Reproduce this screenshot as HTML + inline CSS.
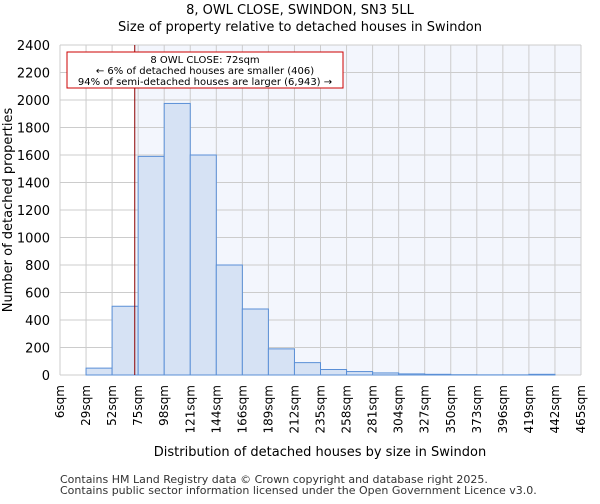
<!DOCTYPE html>
<html><head><meta charset="utf-8"><style>
body{margin:0;background:#fff;font-family:"DejaVu Sans","Liberation Sans",sans-serif}
</style></head><body>
<svg id="chart" width="600" height="500" viewBox="0 0 600 500" font-family="DejaVu Sans, Liberation Sans, sans-serif">
<text x="300" y="14" font-size="13" text-anchor="middle">8, OWL CLOSE, SWINDON, SN3 5LL</text>
<text x="300" y="31" font-size="13" text-anchor="middle">Size of property relative to detached houses in Swindon</text>
<g id="plot"></g>
<text x="320" y="456" font-size="13" text-anchor="middle">Distribution of detached houses by size in Swindon</text>
<text transform="translate(12,210) rotate(-90)" font-size="13" text-anchor="middle">Number of detached properties</text>
<text x="60" y="483" font-size="11" fill="#333">Contains HM Land Registry data © Crown copyright and database right 2025.</text>
<text x="60" y="494" font-size="11" fill="#333">Contains public sector information licensed under the Open Government Licence v3.0.</text>
</svg>
<script>
const binLabels=["6sqm","29sqm","52sqm","75sqm","98sqm","121sqm","144sqm","166sqm","189sqm","212sqm","235sqm","258sqm","281sqm","304sqm","327sqm","350sqm","373sqm","396sqm","419sqm","442sqm","465sqm"];
const binEdges=[6,29,52,75,98,121,144,166,189,212,235,258,281,304,327,350,373,396,419,442,465];
const counts=[0,50,500,1590,1975,1600,800,480,190,90,40,25,15,8,5,2,1,1,5,0];
const yTicks=[0,200,400,600,800,1000,1200,1400,1600,1800,2000,2200,2400];
const markerValue=72;
const NS="http://www.w3.org/2000/svg";
const L=60,R=581,T=45,B=375,yMax=2400;
const nb=counts.length;
const xi=i=>L+(R-L)*i/nb;
const xv=v=>{for(let i=0;i<binEdges.length-1;i++){if(v<=binEdges[i+1])return xi(i)+(v-binEdges[i])/(binEdges[i+1]-binEdges[i])*(xi(i+1)-xi(i));}return R;};
const y=v=>B-(B-T)*v/yMax;
const g=document.getElementById('plot');
function mk(t,a){const e=document.createElementNS(NS,t);for(const k in a)e.setAttribute(k,a[k]);g.appendChild(e);return e;}
const mx=xv(markerValue);
let e=mk('rect',{x:mx,y:T,width:R-mx,height:B-T,fill:'#f3f6fd'});


yTicks.forEach(t=>{let l=mk('line',{x1:L,x2:R,y1:y(t),y2:y(t),stroke:'#cccccc','stroke-width':1});


let tx=mk('text',{x:L-10,y:y(t)+5,'font-size':13,'text-anchor':'end'});tx.textContent=t;

});
binLabels.forEach((lb,i)=>{let l=mk('line',{x1:xi(i),x2:xi(i),y1:T,y2:B,stroke:'#cccccc','stroke-width':1});


let tx=mk('text',{transform:`translate(${xi(i)+4},385) rotate(-90)`,'font-size':12,'text-anchor':'end'});tx.textContent=lb;

});
counts.forEach((c,i)=>{if(c<=0)return;let r=mk('rect',{x:xi(i),y:y(c),width:xi(i+1)-xi(i),height:B-y(c),fill:'#d6e2f4',stroke:'#5a8fd6','stroke-width':1});

});
let ml=mk('line',{x1:mx,x2:mx,y1:T,y2:B,stroke:'#8b0000','stroke-width':1});


let box=mk('rect',{x:67,y:52,width:276,height:36,fill:'#fff',stroke:'#cc0000','stroke-width':1});


["8 OWL CLOSE: 72sqm","← 6% of detached houses are smaller (406)","94% of semi-detached houses are larger (6,943) →"].forEach((s,i)=>{let t=mk('text',{x:205,y:63+i*11,'font-size':10,'text-anchor':'middle'});t.textContent=s;

});
</script>
</body></html>
